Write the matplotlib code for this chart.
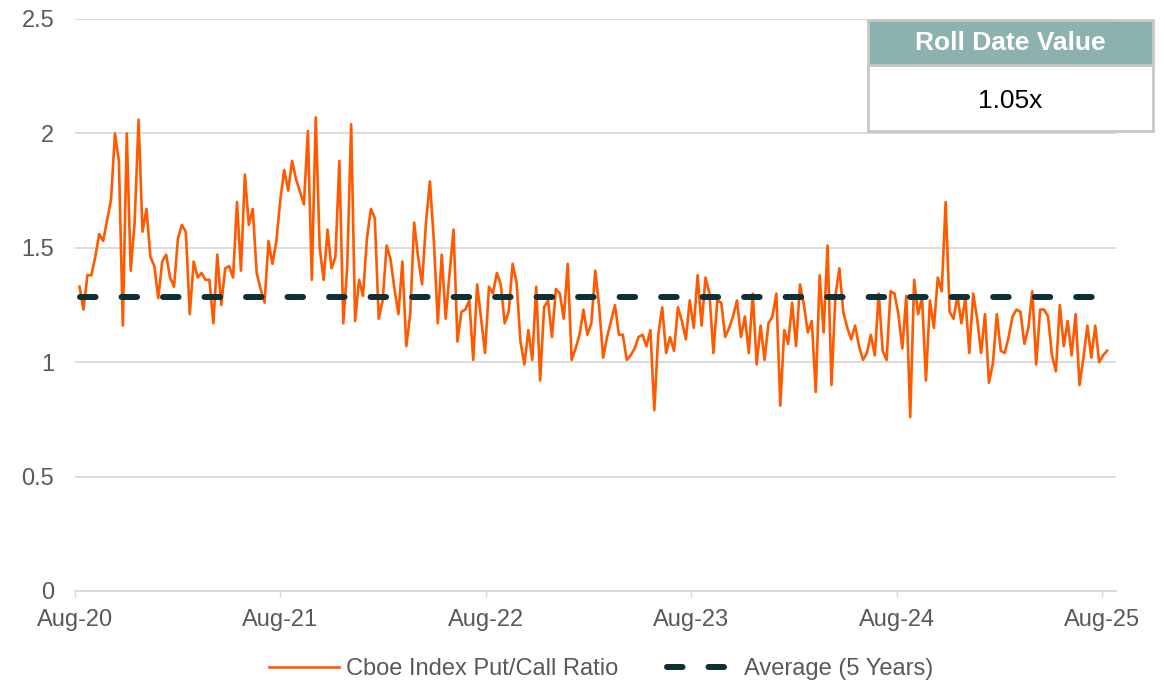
import pandas as pd
import matplotlib.pyplot as plt
import matplotlib.dates as mdates
from matplotlib.patches import Rectangle

plt.rcParams['font.family'] = ['Liberation Sans', 'DejaVu Sans']

# Weekly Cboe index put/call ratio
start_date = '2020-08-09'
ratio_part1 = [1.33, 1.23, 1.38, 1.38, 1.46, 1.56, 1.53, 1.62, 1.71, 2.00,
               1.88, 1.16, 2.00, 1.40, 1.61, 2.06, 1.57, 1.67, 1.46, 1.42,
               1.28, 1.44, 1.47, 1.37, 1.33, 1.54, 1.60, 1.57, 1.21, 1.44,
               1.37, 1.39, 1.36, 1.36, 1.17, 1.47, 1.25, 1.41, 1.42, 1.37,
               1.70, 1.40, 1.82, 1.60, 1.67, 1.39, 1.32, 1.26, 1.53, 1.43,
               1.53, 1.71, 1.84, 1.75, 1.88, 1.80, 1.745, 1.69, 2.01, 1.36,
               2.07]
ratio_part2 = [1.50, 1.36, 1.58, 1.41, 1.46, 1.88, 1.17, 1.42, 2.04, 1.18,
               1.36, 1.29, 1.54, 1.67, 1.63, 1.19, 1.27, 1.51, 1.45, 1.32,
               1.21, 1.44, 1.07, 1.21, 1.61, 1.46, 1.34, 1.61, 1.79, 1.53,
               1.17, 1.47, 1.19, 1.39, 1.58, 1.09, 1.22, 1.23, 1.27, 1.01,
               1.34, 1.19, 1.04, 1.33, 1.30, 1.39, 1.34]
ratio_part3 = [1.17, 1.22, 1.43, 1.35, 1.09, 0.99, 1.14, 1.01, 1.33, 0.92,
               1.24, 1.27, 1.11, 1.32, 1.30, 1.19, 1.43, 1.01, 1.06, 1.12,
               1.23, 1.12, 1.17, 1.40, 1.24, 1.02, 1.11, 1.18, 1.25, 1.12,
               1.12, 1.01, 1.03, 1.06, 1.11, 1.12, 1.07, 1.14, 0.79, 1.12,
               1.24, 1.04, 1.11, 1.05, 1.24, 1.18, 1.10, 1.27, 1.15, 1.38,
               1.16]
ratio_part4 = [1.37, 1.30, 1.04, 1.27, 1.26, 1.11, 1.15, 1.20, 1.27, 1.11,
               1.20, 1.04, 1.30, 0.99, 1.16, 1.01, 1.17, 1.20, 1.30, 0.81,
               1.14, 1.08, 1.26, 1.07, 1.34, 1.25, 1.13, 1.18, 0.87, 1.38,
               1.13, 1.51, 0.90, 1.29, 1.41, 1.22, 1.15, 1.10, 1.16, 1.07,
               1.01, 1.04, 1.12, 1.03, 1.30, 1.05, 1.01, 1.31, 1.30, 1.21,
               1.06, 1.29, 0.76]
ratio_part5 = [1.36, 1.21, 1.28, 0.92, 1.27, 1.15, 1.37, 1.31, 1.70, 1.22,
               1.19, 1.29, 1.17, 1.28, 1.04, 1.30, 1.19, 1.04, 1.21, 0.91,
               0.995, 1.21, 1.05, 1.04, 1.11, 1.20, 1.23, 1.22, 1.08, 1.15,
               1.31, 0.99, 1.23, 1.23, 1.20, 1.03, 0.96, 1.25, 1.07, 1.18,
               1.03, 1.21, 0.90, 1.02, 1.16, 1.02, 1.16, 1.00, 1.03, 1.05]
put_call_ratio = ratio_part1 + ratio_part2 + ratio_part3 + ratio_part4 + ratio_part5

average_5y = 1.285
roll_date_value = '1.05x'

y_ticks = [0, 0.5, 1, 1.5, 2, 2.5]
y_tick_labels = ['0', '0.5', '1', '1.5', '2', '2.5']
x_tick_dates = ['2020-08-01', '2021-08-01', '2022-08-01',
                '2023-08-01', '2024-08-01', '2025-08-01']

dates = pd.date_range(start_date, periods=len(put_call_ratio), freq='7D')

grey_text = '#595959'
grid_grey = '#d9d9d9'

fig = plt.figure(figsize=(11.65, 6.83), dpi=100)
ax = fig.add_axes([0.0644, 0.1347, 0.8936, 0.8375])

ax.plot(dates, put_call_ratio, color='#ff5a00', linewidth=1.9,
        label='Cboe Index Put/Call Ratio', zorder=3)
avg_line, = ax.plot([dates[0], dates[-1]], [average_5y, average_5y],
                    color='#0d2f36', linewidth=4.3, dash_capstyle='round',
                    label='Average (5 Years)', zorder=4)
avg_line.set_dashes([2.6, 4.35])

ax.set_ylim(0, 2.5)
ax.set_yticks(y_ticks)
ax.set_yticklabels(y_tick_labels)
ax.set_xlim(pd.Timestamp('2020-08-01'), pd.Timestamp('2025-08-26'))
ax.set_xticks(pd.to_datetime(x_tick_dates))
ax.xaxis.set_major_formatter(mdates.DateFormatter('%b-%y'))

ax.grid(axis='y', color=grid_grey, linewidth=1.3)
ax.set_axisbelow(True)
for side in ['top', 'right', 'left']:
    ax.spines[side].set_visible(False)
ax.spines['bottom'].set_color(grid_grey)
ax.spines['bottom'].set_linewidth(1.3)

ax.tick_params(axis='y', length=0, pad=15, labelsize=17, labelcolor=grey_text)
ax.tick_params(axis='x', length=4, width=1, color=grid_grey, pad=9,
               labelsize=17, labelcolor=grey_text)

# Legend below the chart
fig.legend(loc='center', bbox_to_anchor=(0.516, 0.02), ncol=2, frameon=False,
           fontsize=17, labelcolor=grey_text, handlelength=2.97,
           columnspacing=2.07, handletextpad=0.3)

# Roll date value box in the top right corner
box_x, box_w = 0.745, 0.2446
fig.add_artist(Rectangle((box_x, 0.8082), box_w, 0.0966, transform=fig.transFigure,
                         facecolor='white', edgecolor='#c8c8c8', linewidth=2, zorder=5))
fig.add_artist(Rectangle((box_x, 0.9048), box_w, 0.0659, transform=fig.transFigure,
                         facecolor='#8cb1ae', edgecolor='#c8c8c8', linewidth=2, zorder=5))
fig.text(box_x + box_w / 2, 0.937, 'Roll Date Value', ha='center', va='center',
         fontsize=19, fontweight='bold', color='white', zorder=6)
fig.text(box_x + box_w / 2, 0.852, roll_date_value, ha='center', va='center',
         fontsize=19, color='black', zorder=6)

fig.savefig('out.png', dpi=100)
